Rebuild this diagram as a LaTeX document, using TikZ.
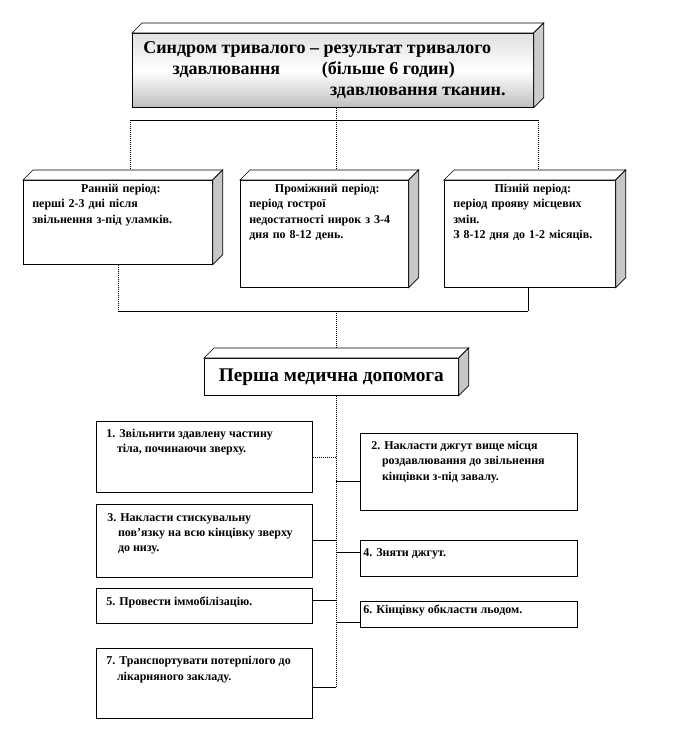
\documentclass[tikz,border=0pt]{standalone}
\usepackage{fontspec}
\setmainfont{Liberation Serif}
\usetikzlibrary{calc}

% top and side face of a box node, plus the point in the middle of its back edge
\newcommand{\obyem}[2][black!22]{%
  \filldraw[fill=white] (#2.north west) -- ++(10,-10) -- ($(#2.north east)+(10,-10)$) -- (#2.north east) -- cycle;
  \filldraw[fill=#1] (#2.north east) -- ++(10,-10) -- ($(#2.south east)+(10,-10)$) -- (#2.south east) -- cycle;
  \coordinate (#2b) at ($(#2.north)+(10,-10)$);}

\begin{document}
\begin{tikzpicture}[x=0.75pt, y=-0.75pt, line width=0.5pt]
\tikzset{
    every node/.style={font=\bfseries},
    korobka/.style 2 args={draw, fill=white, anchor=north west, inner sep=0pt,
        minimum width=#1*0.75pt, minimum height=#2*0.75pt},
    napys/.style={anchor=north west, inner sep=0pt, align=left,
        font=\fontsize{9}{11.5}\selectfont\bfseries},
    kryapky/.style={densely dotted}
}
\useasboundingbox (0,0) rectangle (672,732);

% syndrome
\node[korobka={401}{74}, shade, top color=black!12, bottom color=black!25, middle color=white] (T) at (132,33) {};
\obyem[black!20]{T}
\node[napys, font=\fontsize{13.5}{16}\selectfont\bfseries] (Tt) at ($(T.north west)+(11,8)$)
    {Синдром тривалого – результат тривалого\\
     \hspace*{22pt}\makebox[112pt][l]{здавлювання}(більше 6 годин)\\
     \hspace*{140pt}здавлювання тканин.};

% periods
\node[korobka={189}{84}] (P1) at (23,180) {};
\obyem{P1}
\node[napys, text width=132.75pt] (P1t) at ($(P1.north west)+(9,4)$)
    {\hfill Ранній період:\hfill\null\\ перші 2-3 дні після\\ звільнення з-під уламків.};

\node[korobka={168}{107}] (P2) at (240,180) {};
\obyem{P2}
\node[napys, text width=117pt] (P2t) at ($(P2.north west)+(9,4)$)
    {\hfill Проміжний період:\hfill\null\\ період гострої\\ недостатності нирок з 3-4\\ дня по 8-12 день.};

\node[korobka={171}{107}] (P3) at (444,180) {};
\obyem{P3}
\node[napys, text width=119.25pt] (P3t) at ($(P3.north west)+(9,4)$)
    {\hfill Пізній період:\hfill\null\\ період прояву місцевих\\ змін.\\ З 8-12 дня до 1-2 місяців.};

% first aid
\node[korobka={254}{37}, font=\fontsize{14.5}{16}\selectfont\bfseries] (H) at (204,358) {Перша медична допомога};
\obyem{H}

\node[korobka={216}{71}] (D1) at (96,421) {};
\node[napys] (D1t) at ($(D1.north west)+(10,8)$)
    {1. Звільнити здавлену частину\\ \hspace*{8pt}тіла, починаючи зверху.};
\node[korobka={217}{77}] (D2) at (360,433) {};
\node[napys] (D2t) at ($(D2.north west)+(11,8)$)
    {2. Накласти джгут вище місця\\ \hspace*{8pt}роздавлювання до звільнення\\ \hspace*{8pt}кінцівки з-під завалу.};
\node[korobka={216}{73}] (D3) at (96,504) {};
\node[napys] (D3t) at ($(D3.north west)+(11,9)$)
    {3. Накласти стискувальну\\ \hspace*{8pt}пов’язку на всю кінцівку зверху\\ \hspace*{8pt}до низу.};
\node[korobka={217}{36}] (D4) at (360,540) {};
\node[napys] (D4t) at ($(D4.north west)+(3,8)$) {4. Зняти джгут.};
\node[korobka={216}{35}] (D5) at (96,588) {};
\node[napys] (D5t) at ($(D5.north west)+(10,9)$) {5. Провести іммобілізацію.};
\node[korobka={217}{26}] (D6) at (360,601) {};
\node[napys] (D6t) at ($(D6.north west)+(3,4)$) {6. Кінцівку обкласти льодом.};
\node[korobka={216}{70}] (D7) at (96,648) {};
\node[napys] (D7t) at ($(D7.north west)+(10,8)$)
    {7. Транспортувати потерпілого до\\ \hspace*{8pt}лікарняного закладу.};

% connectors
\coordinate (v0) at (336,120);
\coordinate (v1) at (130,120);
\coordinate (v3) at (538,120);
\draw[kryapky] (T.south -| v0) -- (v0);
\draw (v1) -- (v3);
\draw[kryapky] (v1) -- (v1 |- P1b);
\draw[kryapky] (v0) -- (v0 |- P2b);
\draw[kryapky] (v3) -- (v3 |- P3b);

\coordinate (n0) at (336,311);
\coordinate (n1) at (118,311);
\coordinate (n3) at (528,311);
\draw[kryapky] (P1.south -| n1) -- (n1);
\draw (P3.south -| n3) -- (n3);
\draw (n1) -- (n3);
\draw[kryapky] (n0) -- (n0 |- Hb);

\coordinate (s7) at (336,687);
\draw[kryapky] (H.south -| s7) -- (s7);
\coordinate (k1) at (336,457);
\coordinate (k2) at (336,481);
\coordinate (k3) at (336,540);
\coordinate (k4) at (336,552);
\coordinate (k5) at (336,600);
\coordinate (k6) at (336,622);
\draw[kryapky] (D1.east |- k1) -- (k1);
\draw (k2) -- (k2 -| D2.west);
\draw (D3.east |- k3) -- (k3);
\draw (k4) -- (k4 -| D4.west);
\draw (D5.east |- k5) -- (k5);
\draw (k6) -- (k6 -| D6.west);
\draw (D7.east |- s7) -- (s7);
\end{tikzpicture}
\end{document}
